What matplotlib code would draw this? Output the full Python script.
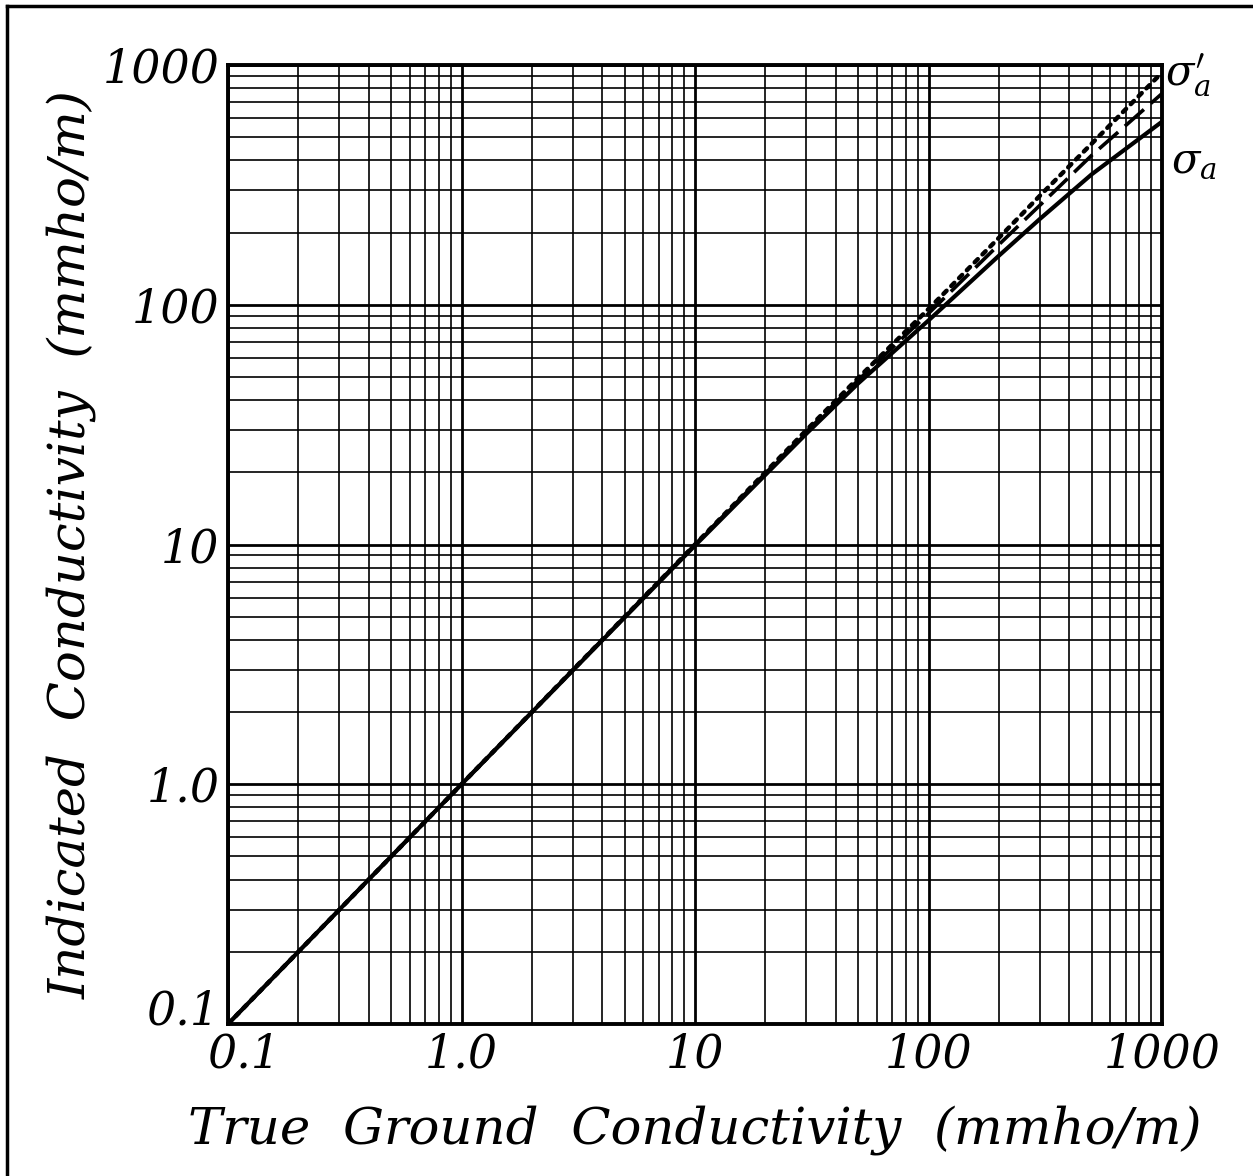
import numpy as np
import matplotlib
matplotlib.use('Agg')
import matplotlib.pyplot as plt
import matplotlib.transforms as mtransforms
from matplotlib.lines import Line2D
from matplotlib.ticker import FixedLocator, NullFormatter

# (log-log)
true_sigma = [0.1, 1.0, 10, 30, 50, 100, 200, 300, 500, 1000]
sigma_a = [0.1, 1.0, 9.9, 29, 47, 86, 160, 228, 350, 580]          # solid
sigma_mid = [0.1, 1.0, 10, 29.5, 48.5, 92, 178, 260, 420, 760]     # dashed
sigma_a_prime = [0.1, 1.0, 10, 30, 49.5, 96, 190, 285, 470, 930]   # dotted

major_ticks = [0.1, 1.0, 10, 100, 1000]
tick_labels = ['0.1', '1.0', '10', '100', '1000']

plt.rcParams['font.family'] = ['DejaVu Serif']
plt.rcParams['mathtext.fontset'] = 'dejavuserif'

fig = plt.figure(figsize=(12.53, 11.76), dpi=100)
ax = fig.add_axes([228 / 1253, 1 - 1024 / 1176, 934 / 1253, 959 / 1176])
ax.set_xscale('log')
ax.set_yscale('log')
ax.set_xlim(0.1, 1000)
ax.set_ylim(0.1, 1000)

minor = [m * 10.0 ** e for e in range(-1, 3) for m in range(2, 10)]
for axis in (ax.xaxis, ax.yaxis):
    axis.set_major_locator(FixedLocator(major_ticks))
    axis.set_minor_locator(FixedLocator(minor))
    axis.set_minor_formatter(NullFormatter())
ax.set_xticklabels(tick_labels)
ax.set_yticklabels(tick_labels)
ax.tick_params(which='both', length=0)
ax.tick_params(axis='x', pad=6, labelsize=33)
ax.tick_params(axis='y', pad=6, labelsize=33)
for lab in ax.get_xticklabels() + ax.get_yticklabels():
    lab.set_fontstyle('italic')

# the two "0.1" labels sit apart in the corner, as in the original
xl0 = ax.get_xticklabels()[0]
xl0.set_transform(xl0.get_transform() +
                  mtransforms.ScaledTranslation(0.16, 0, fig.dpi_scale_trans))
yl0 = ax.get_yticklabels()[0]
yl0.set_transform(yl0.get_transform() +
                  mtransforms.ScaledTranslation(0, 0.17, fig.dpi_scale_trans))

ax.grid(which='major', color='black', lw=2.0)
ax.grid(which='minor', color='black', lw=1.2)
for s in ax.spines.values():
    s.set_linewidth(2.8)

ax.plot(true_sigma, sigma_a, color='black', lw=3, solid_capstyle='butt')
ax.plot(true_sigma, sigma_mid, color='black', lw=2.6, dashes=(7, 2.5))
ax.plot(true_sigma, sigma_a_prime, color='black', lw=3.2, dashes=(1.0, 1.5),
        dash_capstyle='round')

ax.text(1.003, 0.99, r"$\sigma_a'$", transform=ax.transAxes, fontsize=30,
        ha='left', va='center')
ax.text(1.01, 0.90, r"$\sigma_a$", transform=ax.transAxes, fontsize=30,
        ha='left', va='center')

ax.set_xlabel('True  Ground  Conductivity  (mmho/m)', fontsize=37,
              fontstyle='italic', labelpad=20)
ax.set_ylabel('Indicated  Conductivity  (mmho/m)', fontsize=37,
              fontstyle='italic', labelpad=4)

# page border (left and top edges visible in the scan)
fig.add_artist(Line2D([7 / 1253, 7 / 1253], [0, 1 - 6 / 1176], color='black', lw=2.5,
                      transform=fig.transFigure))
fig.add_artist(Line2D([7 / 1253, 1], [1 - 6 / 1176, 1 - 6 / 1176], color='black', lw=2.5,
                      transform=fig.transFigure))

fig.savefig('out.png', dpi=100, facecolor='white')
